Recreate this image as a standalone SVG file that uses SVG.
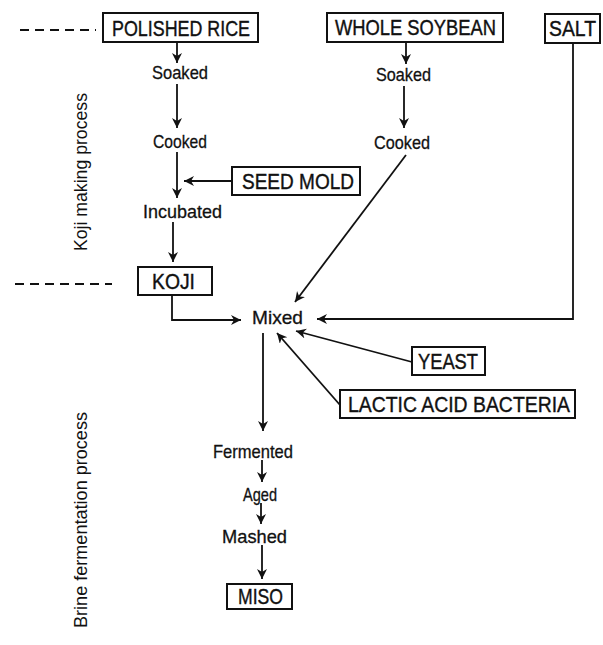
<svg xmlns="http://www.w3.org/2000/svg" width="603" height="645" viewBox="0 0 603 645">
<style>
.box{fill:#fff;stroke:#111;stroke-width:2}
.bt{font-family:"Liberation Sans",Arial,sans-serif;font-size:22px;fill:#111;stroke:#111;stroke-width:0.4}
.lt{font-family:"Liberation Sans",Arial,sans-serif;font-size:19px;fill:#111;stroke:#111;stroke-width:0.3}
.side{font-family:"Liberation Sans",Arial,sans-serif;font-size:18px;fill:#111}
.ln{fill:none;stroke:#111;stroke-width:1.8}
.dash{fill:none;stroke:#111;stroke-width:2;stroke-dasharray:9 6}
</style>
<defs>
<marker id="ah" markerWidth="12" markerHeight="12" refX="10" refY="5" orient="auto" markerUnits="userSpaceOnUse">
<path d="M0,0 L10,5 L0,10 L3,5 Z" fill="#111"/>
</marker>
</defs>
<rect width="603" height="645" fill="#fff"/>
<g id="labels">
<text class="side" transform="translate(87,251) rotate(-90)" textLength="158" lengthAdjust="spacingAndGlyphs">Koji making process</text>
<text class="side" transform="translate(87,628) rotate(-90)" textLength="216" lengthAdjust="spacingAndGlyphs">Brine fermentation process</text>
<path class="dash" d="M20,30 H96"/>
<path class="dash" d="M15,284 H112"/>
</g>
<g id="polished-rice"><rect class="box" x="103" y="13" width="155" height="29"/><text class="bt" x="112" y="35.5" textLength="138" lengthAdjust="spacingAndGlyphs">POLISHED RICE</text></g>
<g id="whole-soybean"><rect class="box" x="327" y="13" width="176" height="29"/><text class="bt" x="335" y="34.5" textLength="161" lengthAdjust="spacingAndGlyphs">WHOLE SOYBEAN</text></g>
<g id="salt"><rect class="box" x="545" y="14" width="55" height="29"/><text class="bt" x="549" y="35.5" textLength="47" lengthAdjust="spacingAndGlyphs">SALT</text></g>
<g id="seed-mold"><rect class="box" x="232" y="167" width="128" height="28"/><text class="bt" x="242" y="189" textLength="112" lengthAdjust="spacingAndGlyphs">SEED MOLD</text></g>
<g id="koji"><rect class="box" x="138" y="267" width="74" height="28"/><text class="bt" x="152" y="289" textLength="43" lengthAdjust="spacingAndGlyphs">KOJI</text></g>
<g id="yeast"><rect class="box" x="412" y="347" width="73" height="28"/><text class="bt" x="418" y="369" textLength="60" lengthAdjust="spacingAndGlyphs">YEAST</text></g>
<g id="lactic-acid-bacteria"><rect class="box" x="340" y="390" width="235" height="28"/><text class="bt" x="348" y="412" textLength="222" lengthAdjust="spacingAndGlyphs">LACTIC ACID BACTERIA</text></g>
<g id="miso"><rect class="box" x="227" y="584" width="65" height="25"/><text class="bt" x="238" y="604" textLength="45" lengthAdjust="spacingAndGlyphs">MISO</text></g>
<g id="rice-soaked"><text class="lt" x="152" y="79" textLength="56" lengthAdjust="spacingAndGlyphs">Soaked</text></g>
<g id="rice-cooked"><text class="lt" x="153" y="148" textLength="54" lengthAdjust="spacingAndGlyphs">Cooked</text></g>
<g id="incubated"><text class="lt" x="143" y="218" textLength="79" lengthAdjust="spacingAndGlyphs">Incubated</text></g>
<g id="soy-soaked"><text class="lt" x="376" y="81" textLength="55" lengthAdjust="spacingAndGlyphs">Soaked</text></g>
<g id="soy-cooked"><text class="lt" x="374" y="149" textLength="56" lengthAdjust="spacingAndGlyphs">Cooked</text></g>
<g id="mixed"><text class="lt" x="252" y="324" textLength="51" lengthAdjust="spacingAndGlyphs">Mixed</text></g>
<g id="fermented"><text class="lt" x="213" y="458" textLength="80" lengthAdjust="spacingAndGlyphs">Fermented</text></g>
<g id="aged"><text class="lt" x="243" y="501" textLength="34" lengthAdjust="spacingAndGlyphs">Aged</text></g>
<g id="mashed"><text class="lt" x="222" y="543" textLength="65" lengthAdjust="spacingAndGlyphs">Mashed</text></g>
<g id="connectors">
<path class="ln" marker-end="url(#ah)" d="M177,42 V63"/>
<path class="ln" marker-end="url(#ah)" d="M177,84 V128"/>
<path class="ln" marker-end="url(#ah)" d="M177,152 V198"/>
<path class="ln" marker-end="url(#ah)" d="M232,181 H184"/>
<path class="ln" marker-end="url(#ah)" d="M173,222 V262"/>
<path class="ln" marker-end="url(#ah)" d="M172,295 V320 H241"/>
<path class="ln" marker-end="url(#ah)" d="M406,42 V64"/>
<path class="ln" marker-end="url(#ah)" d="M404,86 V128"/>
<path class="ln" marker-end="url(#ah)" d="M406,155 L295,302"/>
<path class="ln" marker-end="url(#ah)" d="M573,43 V319 H317"/>
<path class="ln" marker-end="url(#ah)" d="M412,362 L296,331"/>
<path class="ln" marker-end="url(#ah)" d="M340,405 L277,333"/>
<path class="ln" marker-end="url(#ah)" d="M263,333 V431"/>
<path class="ln" marker-end="url(#ah)" d="M262,460 V482"/>
<path class="ln" marker-end="url(#ah)" d="M261,503 V524"/>
<path class="ln" marker-end="url(#ah)" d="M262,545 V579"/>
</g>
</svg>
